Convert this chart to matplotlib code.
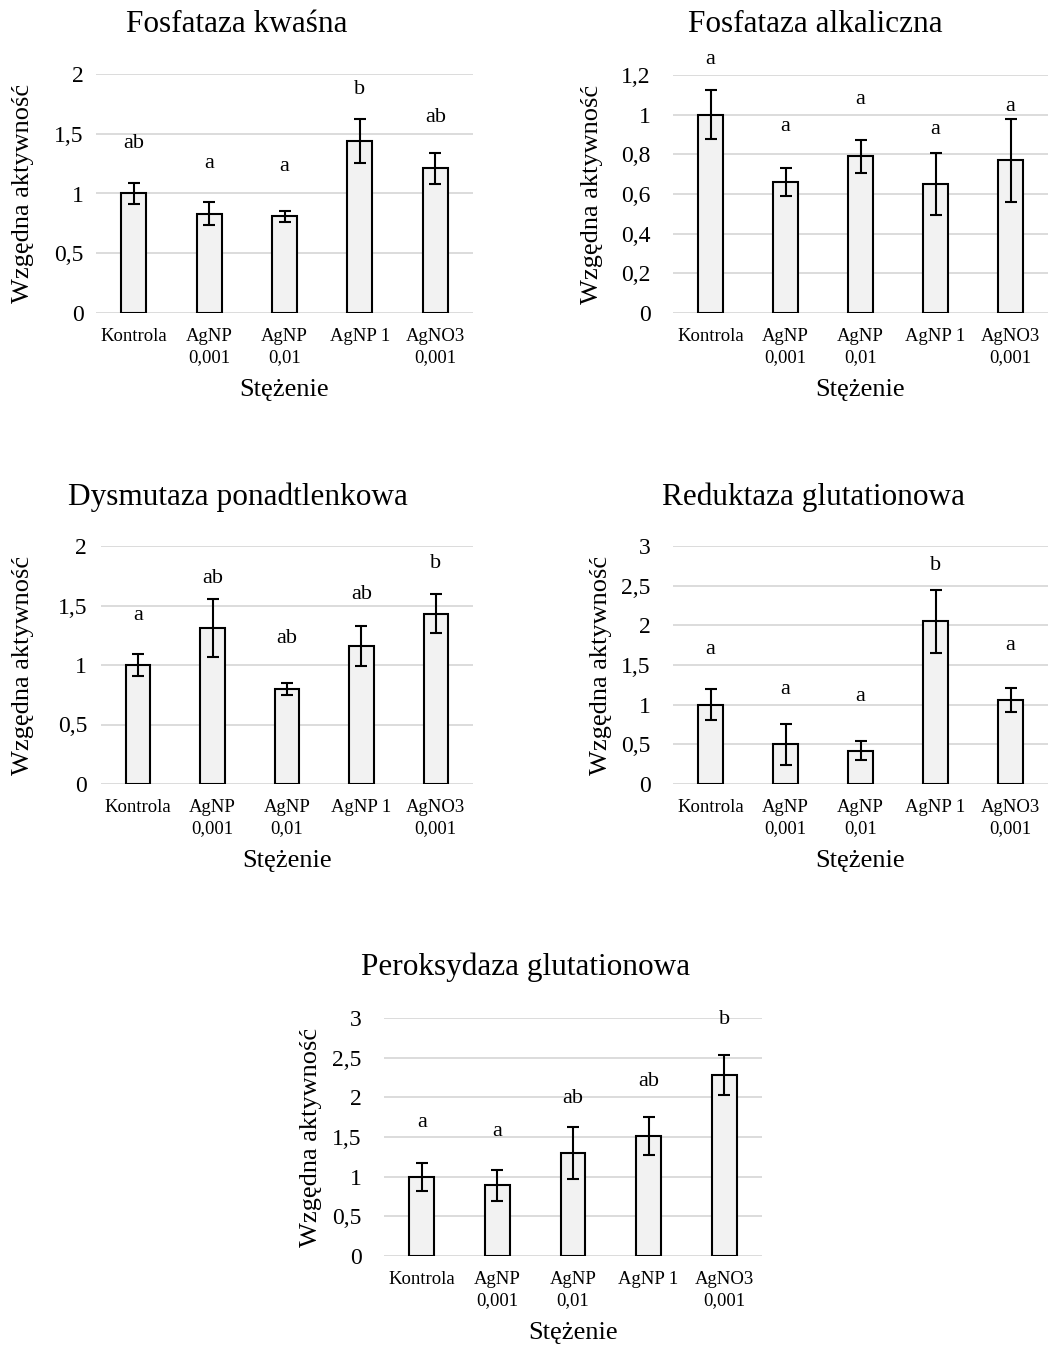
import matplotlib
matplotlib.use("Agg")
import matplotlib.pyplot as plt

plt.rcParams['font.family'] = ['Liberation Serif', 'DejaVu Serif']

categories = ["Kontrola", "AgNP\n0,001", "AgNP\n0,01", "AgNP 1", "AgNO3\n0,001"]

titles = ["Fosfataza kwaśna", "Fosfataza alkaliczna", "Dysmutaza ponadtlenkowa",
          "Reduktaza glutationowa", "Peroksydaza glutationowa"]

# Fosfataza kwaśna
acp_mean = [1.00, 0.83, 0.81, 1.44, 1.21]
acp_err = [0.085, 0.095, 0.045, 0.187, 0.128]
acp_letters = ["ab", "a", "a", "b", "ab"]
acp_letter_y = [1.42, 1.25, 1.23, 1.87, 1.64]
acp_ticks = [0, 0.5, 1, 1.5, 2]

# Fosfataza alkaliczna
alp_mean = [1.00, 0.66, 0.79, 0.65, 0.77]
alp_err = [0.122, 0.07, 0.082, 0.156, 0.208]
alp_letters = ["a", "a", "a", "a", "a"]
alp_letter_y = [1.276, 0.94, 1.074, 0.926, 1.04]
alp_ticks = [0, 0.2, 0.4, 0.6, 0.8, 1.0, 1.2]

# Dysmutaza ponadtlenkowa
sod_mean = [1.00, 1.31, 0.80, 1.16, 1.43]
sod_err = [0.095, 0.243, 0.05, 0.167, 0.163]
sod_letters = ["a", "ab", "ab", "ab", "b"]
sod_letter_y = [1.42, 1.73, 1.224, 1.59, 1.854]
sod_ticks = [0, 0.5, 1, 1.5, 2]

# Reduktaza glutationowa
gr_mean = [1.00, 0.50, 0.42, 2.05, 1.06]
gr_err = [0.198, 0.256, 0.122, 0.40, 0.155]
gr_letters = ["a", "a", "a", "b", "a"]
gr_letter_y = [1.69, 1.185, 1.10, 2.76, 1.75]
gr_ticks = [0, 0.5, 1, 1.5, 2, 2.5, 3]

# Peroksydaza glutationowa
gpx_mean = [1.00, 0.89, 1.30, 1.51, 2.28]
gpx_err = [0.175, 0.195, 0.33, 0.243, 0.25]
gpx_letters = ["a", "a", "ab", "ab", "b"]
gpx_letter_y = [1.68, 1.568, 1.99, 2.20, 2.98]
gpx_ticks = [0, 0.5, 1, 1.5, 2, 2.5, 3]

W, H = 1048, 1349
fig = plt.figure(figsize=(W / 100, H / 100), dpi=100)

# axes boxes in pixels: left, top, right, bottom
boxes = [(96, 74, 473, 313), (673, 75, 1048, 313), (101, 546, 473, 784),
         (673, 546, 1048, 784), (384, 1018, 762, 1256)]
title_pos = [(237, 25), (815, 25), (238, 497), (814, 497), (526, 967)]
ylabel_x = [23, 592, 23, 601, 311]
tick_pads = [9, 16, 10, 16, 16]

panels = [
    (acp_mean, acp_err, acp_letters, acp_letter_y, acp_ticks),
    (alp_mean, alp_err, alp_letters, alp_letter_y, alp_ticks),
    (sod_mean, sod_err, sod_letters, sod_letter_y, sod_ticks),
    (gr_mean, gr_err, gr_letters, gr_letter_y, gr_ticks),
    (gpx_mean, gpx_err, gpx_letters, gpx_letter_y, gpx_ticks),
]


def fmt(v):
    s = ("%g" % v)
    return s.replace(".", ",")


for i, (mean, err, letters, ly, ticks) in enumerate(panels):
    l, t, r, b = boxes[i]
    ax = fig.add_axes([l / W, 1 - b / H, (r - l) / W, (b - t) / H])
    x = list(range(len(categories)))
    ax.bar(x, mean, width=0.33, color="#f2f2f2", edgecolor="black", linewidth=1.5, zorder=3)
    ax.errorbar(x, mean, yerr=err, fmt="none", ecolor="black", elinewidth=1.5,
                capsize=4.6, capthick=1.5, zorder=4)
    for xi, lab, yy in zip(x, letters, ly):
        ax.text(xi, yy, lab, ha="center", va="center", fontsize=16, clip_on=False)
    ax.set_xlim(-0.5, len(categories) - 0.5)
    ax.set_ylim(ticks[0], ticks[-1])
    ax.set_yticks(ticks)
    ax.set_yticklabels([fmt(v) for v in ticks], fontsize=17)
    ax.set_xticks(x)
    ax.set_xticklabels(categories, fontsize=13.5, linespacing=1.3)
    ax.tick_params(axis="both", length=0)
    ax.tick_params(axis="y", pad=tick_pads[i])
    ax.tick_params(axis="x", pad=11)
    ax.grid(axis="y", color="#d9d9d9", linewidth=1.3, zorder=0)
    ax.set_axisbelow(True)
    for sp in ax.spines.values():
        sp.set_visible(False)
    ax.set_ylabel("Wzgędna aktywność", fontsize=19, va="center")
    ax.yaxis.set_label_coords((ylabel_x[i] - l) / (r - l), 0.5)
    ax.set_xlabel("Stężenie", fontsize=19, va="center")
    ax.xaxis.set_label_coords(0.5, -(77) / (b - t))
    tx, ty = title_pos[i]
    fig.text(tx / W, 1 - ty / H, titles[i], ha="center", va="center", fontsize=22.5)

fig.savefig("out.png", dpi=100)
